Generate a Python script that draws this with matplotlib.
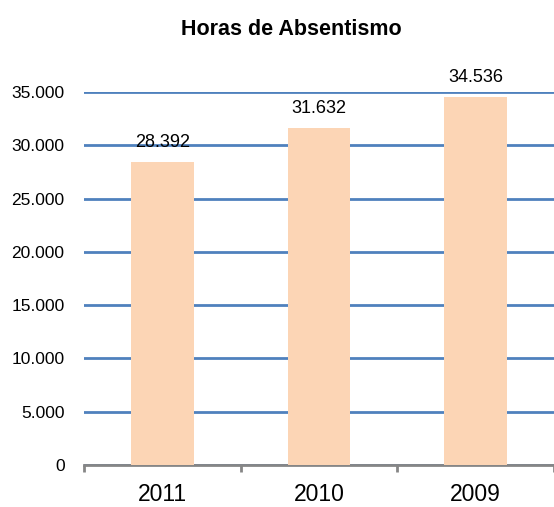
import matplotlib
matplotlib.use("Agg")
import matplotlib.pyplot as plt

# dados
anos = ["2011", "2010", "2009"]
horas = [28392, 31632, 34536]
yticks = [0, 5000, 10000, 15000, 20000, 25000, 30000, 35000]
ytick_labels = ["0", "5.000", "10.000", "15.000", "20.000", "25.000", "30.000", "35.000"]
rotulos = ["28.392", "31.632", "34.536"]

plt.rcParams["font.family"] = ["Liberation Sans", "DejaVu Sans"]

fig = plt.figure(figsize=(5.54, 5.07), dpi=100)
ax = fig.add_axes([84 / 554, 42 / 507, 1 - 84 / 554, 373 / 507])

x = list(range(len(anos)))
ax.bar(x, horas, width=0.4, color="#FCD5B5", zorder=3)

# rótulos de valor acima das barras
for xi, v, r in zip(x, horas, rotulos):
    ax.annotate(r, (xi, v), xytext=(0, 11), textcoords="offset points",
                ha="center", va="baseline", fontsize=13, color="black")

ax.set_ylim(0, 35000)
ax.set_xlim(-0.5, -0.5 + 470 / 158.5)
ax.set_yticks(yticks)
ax.set_yticklabels(ytick_labels, fontsize=12.5)
ax.yaxis.grid(True, color="#4F81BD", linewidth=2, zorder=0)
ax.set_axisbelow(True)

ax.set_xticks([-0.5, 0.5, 1.5, 2.5])
ax.set_xticklabels([])
ax.set_xticks(x, minor=True)
ax.set_xticklabels(anos, minor=True, fontsize=16.5)
ax.tick_params(axis="x", which="major", direction="out", length=5, width=2, color="#868686")
ax.tick_params(axis="x", which="minor", length=0, pad=13)
ax.tick_params(axis="y", length=0, pad=14)

for s in ["top", "right", "left"]:
    ax.spines[s].set_visible(False)
ax.spines["bottom"].set_color("#868686")
ax.spines["bottom"].set_linewidth(2)

fig.text(291 / 554, 1 - 35 / 507, "Horas de Absentismo", ha="center", va="baseline",
         fontsize=15.5, fontweight="bold")

fig.savefig("out.png", dpi=100)
